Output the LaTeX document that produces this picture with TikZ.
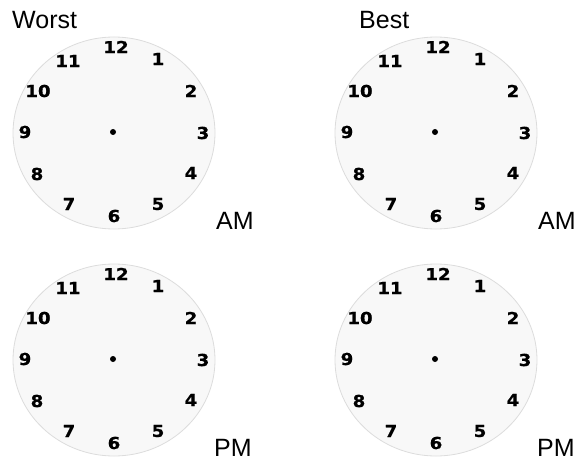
\documentclass[tikz,border=0pt]{standalone}
\usepackage{fontspec}
\setmainfont{Liberation Sans}
\newfontfamily\digitfont[FakeBold=0.8]{DejaVu Sans Bold}
\definecolor{facefill}{HTML}{F8F8F8}
\definecolor{faceline}{HTML}{DCDCDC}
\begin{document}
\begin{tikzpicture}[x=1pt,y=-1pt,
  face/.style={fill=facefill,draw=faceline,line width=0.8pt},
  digit/.style={inner sep=0pt,font=\digitfont\fontsize{16.5}{16.5}\selectfont,xscale=1.1},
  lbl/.style={inner sep=0pt,anchor=base west,font=\fontsize{25}{25}\selectfont}]
\path[use as bounding box] (0,0) rectangle (587,460);
\foreach \cx/\cy/\id in {114/133/a,436/133/b,114/360/c,436/360/d}{
  \begin{scope}[shift={(\cx,\cy)}]
    \path[face] (0,0) ellipse[x radius=101,y radius=96];
    \fill (-1,-1) circle[radius=3];
    \foreach \n/\dx/\dy in {12/2/-86,1/44/-74,2/77/-42,3/89/0,4/77/40,5/44/71,6/0/83,7/-45/71,8/-77/41,9/-89/-1,10/-76/-42,11/-46/-72}{
      \node[digit] (\id n\n) at (\dx,\dy) {\n};
    }
  \end{scope}
}
\node[lbl] (worst) at (12,29) {Worst};
\node[lbl] (best) at (359,29) {Best};
\node[lbl] (am1) at (216,229) {AM};
\node[lbl] (am2) at (538,229) {AM};
\node[lbl] (pm1) at (214,456) {PM};
\node[lbl] (pm2) at (537,456) {PM};
\end{tikzpicture}
\end{document}
